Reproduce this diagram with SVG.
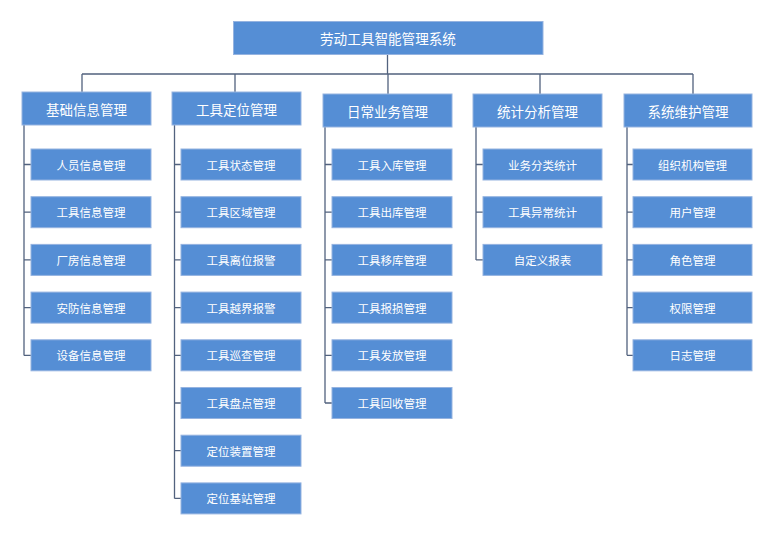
<svg xmlns="http://www.w3.org/2000/svg" width="775" height="535" viewBox="0 0 775 535">
<style>
.b{fill:#558ED5;stroke:#95B3E0;stroke-width:1}
.t{fill:#fff;font-family:"Noto Sans CJK SC","Noto Sans",sans-serif;text-anchor:middle;dominant-baseline:central}
.h{font-size:13.5px}
.c{font-size:11.5px}
.l{stroke:#52627E;stroke-width:1.3;fill:none}
</style>
<rect width="775" height="535" fill="#fff"/>
<g id="connectors">
<path class="l" d="M387.5 54.5V74M82 74H693M82 74V92M235 74V92M388 74V94M540 74V94M693 74V94"/>
<path class="l" d="M24 125V355.5M24 164.5H31M24 212.2H31M24 259.9H31M24 307.6H31M24 355.3H31"/>
<path class="l" d="M174.5 125V498.5M174.5 164.5H181M174.5 212.2H181M174.5 259.9H181M174.5 307.6H181M174.5 355.3H181M174.5 403H181M174.5 450.7H181M174.5 498.4H181"/>
<path class="l" d="M325 127V403M325 164.5H332M325 212.2H332M325 259.9H332M325 307.6H332M325 355.3H332M325 403H332"/>
<path class="l" d="M476 127V259.9M476 164.5H483M476 212.2H483M476 259.9H483"/>
<path class="l" d="M627 127V355.3M627 164.5H633M627 212.2H633M627 259.9H633M627 307.6H633M627 355.3H633"/>
</g>
<g id="root"><rect class="b" x="233.5" y="21.5" width="309.5" height="33"/><text class="t" x="388" y="38" font-size="13.6">劳动工具智能管理系统</text></g>
<g id="col1"><rect class="b" x="22" y="92" width="129" height="33"/><text class="t h" x="86.5" y="108.5">基础信息管理</text></g>
<g id="col2"><rect class="b" x="172" y="92" width="129" height="33"/><text class="t h" x="236.5" y="108.5">工具定位管理</text></g>
<g id="col3"><rect class="b" x="323" y="94" width="129" height="33"/><text class="t h" x="387.5" y="110.5">日常业务管理</text></g>
<g id="col4"><rect class="b" x="473" y="94" width="129" height="33"/><text class="t h" x="537.5" y="110.5">统计分析管理</text></g>
<g id="col5"><rect class="b" x="624" y="94" width="128" height="33"/><text class="t h" x="688" y="110.5">系统维护管理</text></g>
<g id="n1_1"><rect class="b" x="31" y="149" width="120" height="31"/><text class="t c" x="91" y="164.5">人员信息管理</text></g>
<g id="n1_2"><rect class="b" x="31" y="196.7" width="120" height="31"/><text class="t c" x="91" y="212.2">工具信息管理</text></g>
<g id="n1_3"><rect class="b" x="31" y="244.4" width="120" height="31"/><text class="t c" x="91" y="259.9">厂房信息管理</text></g>
<g id="n1_4"><rect class="b" x="31" y="292.1" width="120" height="31"/><text class="t c" x="91" y="307.6">安防信息管理</text></g>
<g id="n1_5"><rect class="b" x="31" y="339.8" width="120" height="31"/><text class="t c" x="91" y="355.3">设备信息管理</text></g>
<g id="n2_1"><rect class="b" x="181" y="149" width="120" height="31"/><text class="t c" x="241" y="164.5">工具状态管理</text></g>
<g id="n2_2"><rect class="b" x="181" y="196.7" width="120" height="31"/><text class="t c" x="241" y="212.2">工具区域管理</text></g>
<g id="n2_3"><rect class="b" x="181" y="244.4" width="120" height="31"/><text class="t c" x="241" y="259.9">工具离位报警</text></g>
<g id="n2_4"><rect class="b" x="181" y="292.1" width="120" height="31"/><text class="t c" x="241" y="307.6">工具越界报警</text></g>
<g id="n2_5"><rect class="b" x="181" y="339.8" width="120" height="31"/><text class="t c" x="241" y="355.3">工具巡查管理</text></g>
<g id="n2_6"><rect class="b" x="181" y="387.5" width="120" height="31"/><text class="t c" x="241" y="403">工具盘点管理</text></g>
<g id="n2_7"><rect class="b" x="181" y="435.2" width="120" height="31"/><text class="t c" x="241" y="450.7">定位装置管理</text></g>
<g id="n2_8"><rect class="b" x="181" y="482.9" width="120" height="31"/><text class="t c" x="241" y="498.4">定位基站管理</text></g>
<g id="n3_1"><rect class="b" x="332" y="149" width="120" height="31"/><text class="t c" x="392" y="164.5">工具入库管理</text></g>
<g id="n3_2"><rect class="b" x="332" y="196.7" width="120" height="31"/><text class="t c" x="392" y="212.2">工具出库管理</text></g>
<g id="n3_3"><rect class="b" x="332" y="244.4" width="120" height="31"/><text class="t c" x="392" y="259.9">工具移库管理</text></g>
<g id="n3_4"><rect class="b" x="332" y="292.1" width="120" height="31"/><text class="t c" x="392" y="307.6">工具报损管理</text></g>
<g id="n3_5"><rect class="b" x="332" y="339.8" width="120" height="31"/><text class="t c" x="392" y="355.3">工具发放管理</text></g>
<g id="n3_6"><rect class="b" x="332" y="387.5" width="120" height="31"/><text class="t c" x="392" y="403">工具回收管理</text></g>
<g id="n4_1"><rect class="b" x="483" y="149" width="119" height="31"/><text class="t c" x="542.5" y="164.5">业务分类统计</text></g>
<g id="n4_2"><rect class="b" x="483" y="196.7" width="119" height="31"/><text class="t c" x="542.5" y="212.2">工具异常统计</text></g>
<g id="n4_3"><rect class="b" x="483" y="244.4" width="119" height="31"/><text class="t c" x="542.5" y="259.9">自定义报表</text></g>
<g id="n5_1"><rect class="b" x="633" y="149" width="119" height="31"/><text class="t c" x="692.5" y="164.5">组织机构管理</text></g>
<g id="n5_2"><rect class="b" x="633" y="196.7" width="119" height="31"/><text class="t c" x="692.5" y="212.2">用户管理</text></g>
<g id="n5_3"><rect class="b" x="633" y="244.4" width="119" height="31"/><text class="t c" x="692.5" y="259.9">角色管理</text></g>
<g id="n5_4"><rect class="b" x="633" y="292.1" width="119" height="31"/><text class="t c" x="692.5" y="307.6">权限管理</text></g>
<g id="n5_5"><rect class="b" x="633" y="339.8" width="119" height="31"/><text class="t c" x="692.5" y="355.3">日志管理</text></g>
</svg>
